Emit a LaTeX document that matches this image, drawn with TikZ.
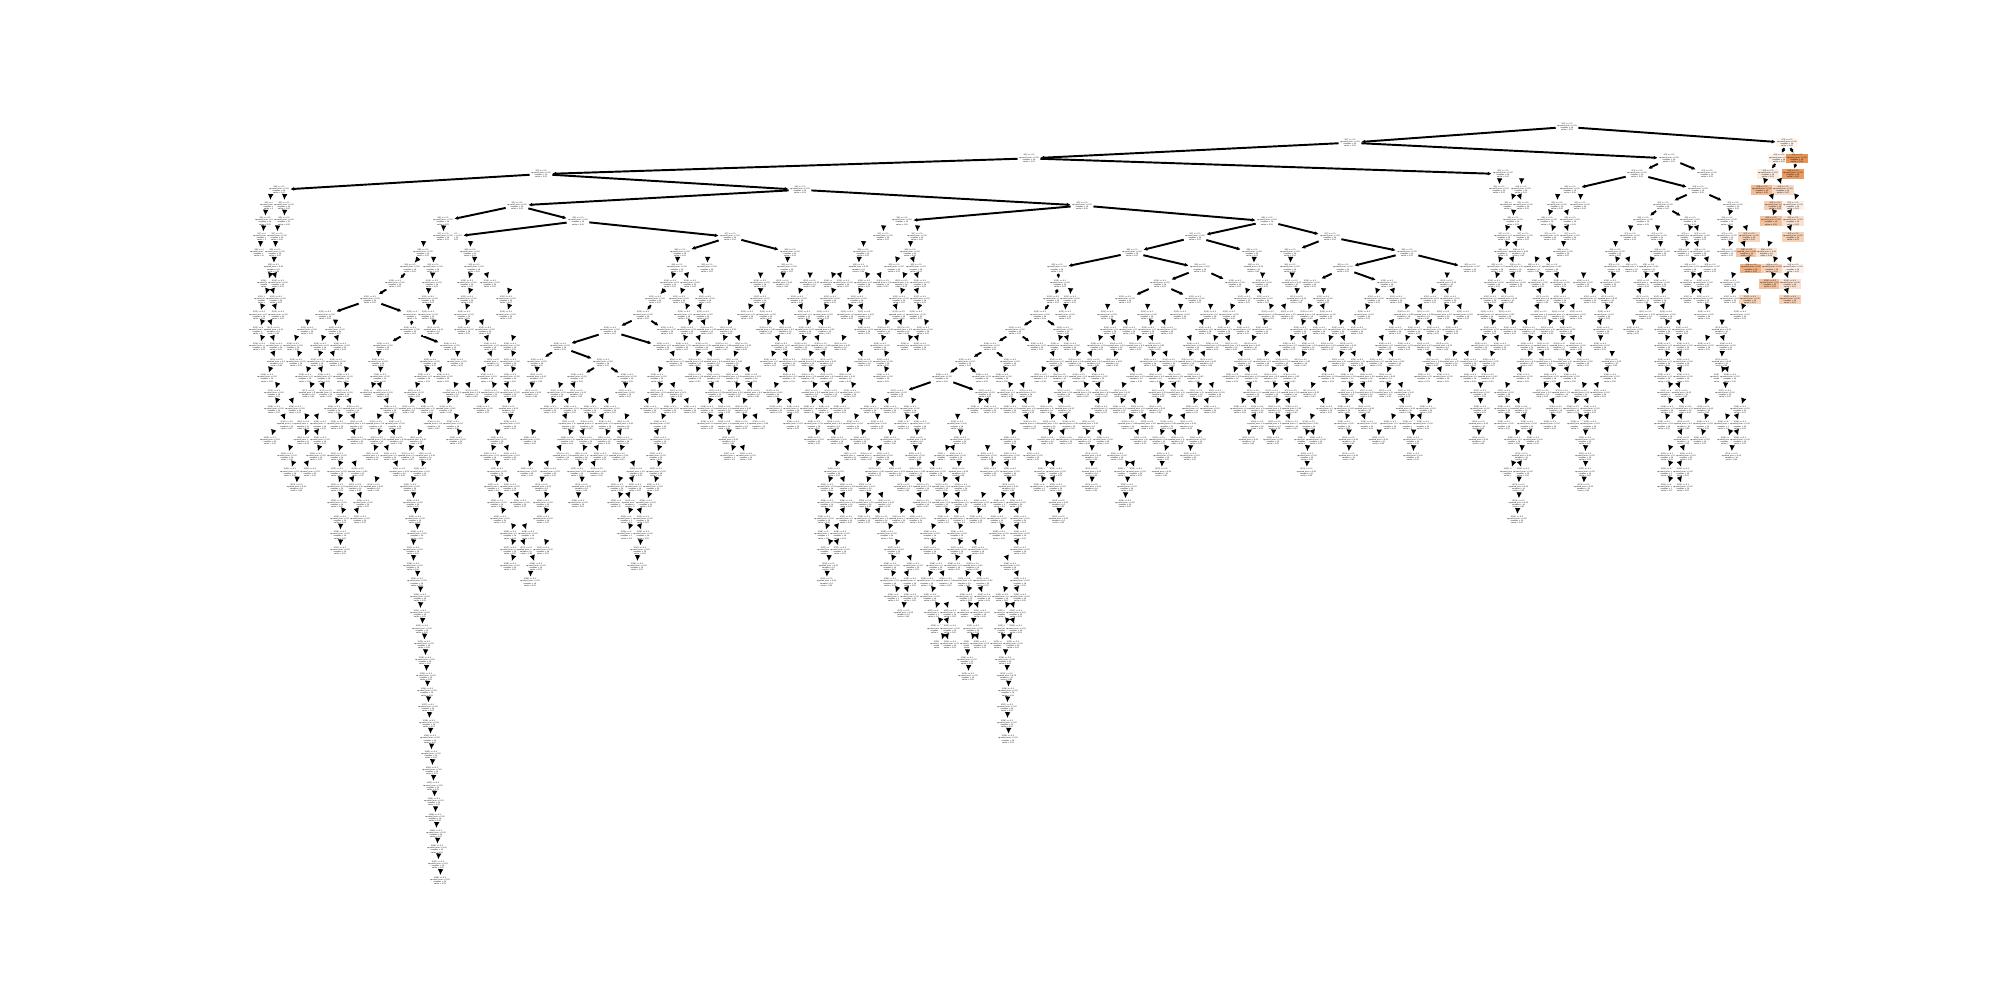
\documentclass[tikz,border=0pt]{standalone}
\usepackage{fontspec}
\setmainfont{DejaVu Sans}
\usetikzlibrary{arrows.meta}
\definecolor{sko}{RGB}{229,129,57}
\pgfdeclarelayer{bg}
\pgfsetlayers{bg,main}
\newcommand\lbl[1]{X[#1] <= 0.5\\squared\_error = 0.02\\samples = 14\\value = 0.03}
\newcommand\sk[4][0]{\node[nd,fill=sko!#1] (#2) at (#4,{127+15.7*#3}) {\lbl{#3}};}
\begin{document}
\begin{tikzpicture}[x=0.01cm,y=-0.01cm,
  nd/.style={fill=white,inner sep=0.25pt,align=center,font=\fontsize{0.52}{0.6}\selectfont},
  edge/.style={line width=0.55pt,-{Latex[length=1.1pt,width=1.1pt]}},
  sedge/.style={line width=0.75pt,-{Latex[length=1.7pt,width=1.6pt]}}]
\useasboundingbox (0,0) rectangle (2000,1000);
% skeleton nodes
\sk{R}{0}{1567}
\sk{A}{1}{1350} \sk[8]{B}{1}{1787}
\sk{C}{2}{1029} \sk{D}{2}{1669} \sk[12]{B1}{2}{1779} \sk[85]{B2}{2}{1797}
\sk{F}{3}{541} \sk{E}{3}{1503} \sk{D1}{3}{1637} \sk{D2}{3}{1707} \sk[15]{B3}{3}{1768} \sk[80]{B4}{3}{1793}
\sk{G}{4}{279} \sk{H}{4}{800} \sk{P1}{4}{1570} \sk{P2}{4}{1698}
\sk{I}{5}{517} \sk{J}{5}{1082} \sk{P3}{5}{1663} \sk{P4}{5}{1733}
\sk{I1}{6}{443} \sk{I2}{6}{578} \sk{K}{6}{902} \sk{L}{6}{1267} \sk{P5}{6}{1643} \sk{P6}{6}{1690}
\sk{I2a}{7}{452} \sk{I2b}{7}{730} \sk{L1}{7}{1195} \sk{L2}{7}{1330}
\sk{Q1}{8}{680} \sk{Q2}{8}{790} \sk{L3}{8}{1132} \sk{L4}{8}{1252} \sk{L5}{8}{1290} \sk{L6}{8}{1407}
\sk{X9}{9}{410} \sk{L7}{9}{1057} \sk{L8}{9}{1200} \sk{L9}{9}{1343} \sk{L10}{9}{1470}
\sk{X0}{10}{395} \sk{T10}{10}{1060} \sk{L11}{10}{1160} \sk{L12}{10}{1235} \sk{L13}{10}{1310} \sk{L14}{10}{1387}
\sk{X1}{11}{370} \sk{S0}{11}{655} \sk{T11}{11}{1053} \sk{L15}{11}{1125} \sk{L16}{11}{1195}
\sk{X2}{12}{325} \sk{X3}{12}{413} \sk{S1}{12}{643} \sk{T12}{12}{1040}
\sk{X4}{13}{410} \sk{S2}{13}{610} \sk{S1b}{13}{667} \sk{T13}{13}{1015} \sk{T12b}{13}{1063}
\sk{X5}{14}{383} \sk{X6}{14}{450} \sk{S3}{14}{560} \sk{S2b}{14}{663} \sk{T14}{14}{990} \sk{T13b}{14}{1037}
\sk{S3a}{15}{537} \sk{S4}{15}{603} \sk{T15}{15}{965} \sk{T14b}{15}{1010}
\sk{S4a}{16}{577} \sk{S4b}{16}{627} \sk{T16}{16}{942} \sk{T15b}{16}{982}
\sk{T17a}{17}{897} \sk{T17b}{17}{985}
% skeleton edges (under the node boxes)
\begin{pgfonlayer}{bg}
\fill[white] (0,0) rectangle (2000,1000);
\foreach \p/\c in {R/A,R/B,A/C,A/D,B/B1,B/B2,C/F,C/E,D/D1,D/D2,B1/B3,B2/B4,
  F/G,F/H,D1/P1,D1/P2,H/I,H/J,P2/P3,P2/P4,I/I1,I/I2,J/K,J/L,P3/P5,P3/P6,
  I2/I2a,I2/I2b,L/L1,L/L2,I2b/Q1,I2b/Q2,L1/L3,L1/L4,L2/L5,L2/L6,L3/L7,L3/L8,
  L6/L9,L6/L10,X9/X0,L7/T10,L8/L11,L8/L12,L9/L13,L9/L14,X0/X1,T10/T11,
  L11/L15,L11/L16,X1/X2,X1/X3,S0/S1,T11/T12,X3/X4,S1/S2,S1/S1b,T12/T13,T12/T12b,
  X4/X5,X4/X6,S2/S3,S2/S2b,T13/T14,T13/T13b,S3/S3a,S3/S4,T14/T15,T14/T14b,
  S4/S4a,S4/S4b,T15/T16,T15/T15b,T16/T17a,T16/T17b}
  \draw[edge] (\p) -- (\c);
\end{pgfonlayer}
% dense rows of small nodes, each with its short incoming arrow
\foreach \d/\ivs in {
 4/{1499/1499,1521/1521,1755/1790},
 5/{270/270,284/284,1503/1530,1557/1557,1580/1580,1750/1800},
 6/{265/265,284/284,1503/1523,1540/1577,1720/1800},
 7/{263/263,277/277,443/443,883/883,917/917,1497/1530,1543/1577,1620/1640,1657/1657,1680/1707,1720/1800},
 8/{260/260,275/275,423/423,470/470,863/863,903/917,1497/1540,1553/1573,1607/1623,1653/1667,1677/1707,1720/1793},
 9/{265/282,433/433,463/485,667/687,707/707,777/797,847/870,887/923,1245/1262,1282/1298,1490/1577,1607/1673,1683/1717,1723/1800},
 10/{260/285,432/432,460/497,663/697,760/760,772/793,806/813,823/850,857/927,1262/1262,1283/1300,1440/1453,1487/1567,1583/1583,1603/1667,1683/1710,1723/1797},
 11/{257/283,423/433,460/513,672/712,750/770,790/837,850/927,1070/1070,1237/1270,1290/1303,1323/1323,1367/1403,1423/1457,1483/1567,1583/1667,1683/1710,1723/1797},
 12/{252/285,428/428,457/513,677/710,740/830,840/923,1060/1070,1107/1107,1147/1147,1180/1180,1210/1210,1222/1333,1357/1470,1480/1583,1597/1673,1697/1747},
 13/{252/295,307/307,335/335,430/437,457/513,680/930,1103/1497,1503/1610,1623/1643,1657/1707,1710/1733},
 14/{252/300,313/347,463/517,675/887,900/927,1050/1077,1090/1507,1520/1583,1590/1610,1657/1690,1697/1733},
 15/{250/303,310/343,378/378,430/430,457/457,470/517,650/890,1030/1590,1600/1623,1657/1690,1710/1733},
 16/{260/350,370/390,417/450,457/517,530/543,650/890,995/1450,1463/1530,1543/1617,1657/1690,1713/1737},
 17/{267/350,363/390,407/517,523/540,550/603,617/633,650/857,1000/1430,1470/1490,1497/1607,1660/1703,1717/1733},
 18/{267/323,327/490,497/520,543/697,700/800,803/847,863/917,970/997,1003/1217,1233/1333,1337/1433,1470/1490,1497/1597,1660/1747},
 19/{263/327,330/460,500/520,543/667,700/800,807/860,877/877,897/927,957/957,1003/1213,1233/1333,1337/1397,1402/1430,1467/1490,1497/1557,1570/1597,1657/1710,1717/1747},
 20/{263/327,330/463,487/507,523/667,717/740,807/867,890/890,910/923,953/967,1003/1203,1237/1260,1273/1273,1297/1323,1340/1357,1370/1387,1403/1423,1470/1487,1507/1540,1577/1593,1660/1707,1720/1747},
 21/{280/323,330/450,483/517,537/663,723/753,827/890,907/923,937/963,987/987,1003/1063,1083/1100,1110/1170,1180/1200,1297/1317,1340/1357,1403/1423,1510/1533,1577/1593,1660/1693,1723/1740},
 22/{283/317,330/427,487/507,520/557,570/663,827/943,947/970,983/1017,1037/1063,1083/1100,1117/1143,1153/1170,1300/1313,1503/1530,1577/1593,1660/1690},
 23/{290/303,330/417,487/517,530/553,570/593,610/660,820/987,1000/1017,1033/1063,1083/1100,1117/1137,1507/1530,1577/1590,1660/1690},
 24/{330/370,403/423,490/550,573/583,610/653,820/987,993/1023,1050/1067,1117/1133,1510/1527},
 25/{333/367,407/423,493/550,620/650,817/853,857/923,937/983,990/1027,1050/1067,1517/1517},
 26/{333/347,407/427,503/553,620/650,817/847,880/937,950/1027},
 27/{333/347,413/413,503/550,630/650,820/847,887/937,950/1027},
 28/{413/413,503/543,637/637,820/837,883/943,947/1017},
 29/{417/417,530/530,820/833,883/917,920/1027},
 30/{420/420,887/917,923/1027},
 31/{420/420,897/910,927/957,960/987,997/1023},
 32/{422/422,930/957,963/983,997/1023},
 33/{424/424,933/957,963/987,993/1020},
 34/{425/425,957/977,997/1013},
 35/{426/426,963/973,1000/1013},
 36/{427/427,1003/1013},
 37/{428/428,1007/1007},
 38/{429/429,1007/1007},
 39/{430/430,1008/1008},
 40/{431/431},41/{432/432},42/{433/433},43/{434/434},44/{435/435},
 45/{436/436},46/{437/437},47/{438/438},48/{440/440}}{
  \pgfmathsetmacro\yy{127+15.7*\d}
  \foreach \a/\b in \ivs {
    \pgfmathtruncatemacro\nn{max(1,round((\b-\a-14)/19)+1)}
    \pgfmathsetmacro\lo{(\nn==1)*(\a+\b)/2+(\nn>1)*(\a+7)}
    \pgfmathsetmacro\st{(\nn>1)*(\b-\a-14)/max(1,\nn-1)}
    \pgfmathtruncatemacro\last{\nn-1}
    \foreach \k in {0,...,\last}{
      \pgfmathtruncatemacro\skip{(\nn>2)*(mod(\k*7+\d*3+\a,5)==0)}
      \ifnum\skip=0
      \pgfmathsetmacro\xx{\lo+\k*\st}
      \pgfmathtruncatemacro\op{and(\xx>1745,\d<12)*(mod(\k*29+\d*13+\a,55)+8)}
      \pgfmathsetmacro\sx{(\nn==1)*0.6+(\nn>1)*(1-2*mod(\k,2))*3.5}
      \node[nd,fill=sko!\op] (n-\d-\a-\k) at (\xx,\yy) {\lbl{\d}};
      \coordinate (p-\d-\a-\k) at (\xx+\sx,\yy-10.5);
      \draw[sedge] (p-\d-\a-\k) -- (n-\d-\a-\k);
      \fi
    }
  }
}
\draw[sedge] (n-8-423-0) -- (X9);
\draw[sedge] (n-10-663-0) -- (S0);
\end{tikzpicture}
\end{document}
